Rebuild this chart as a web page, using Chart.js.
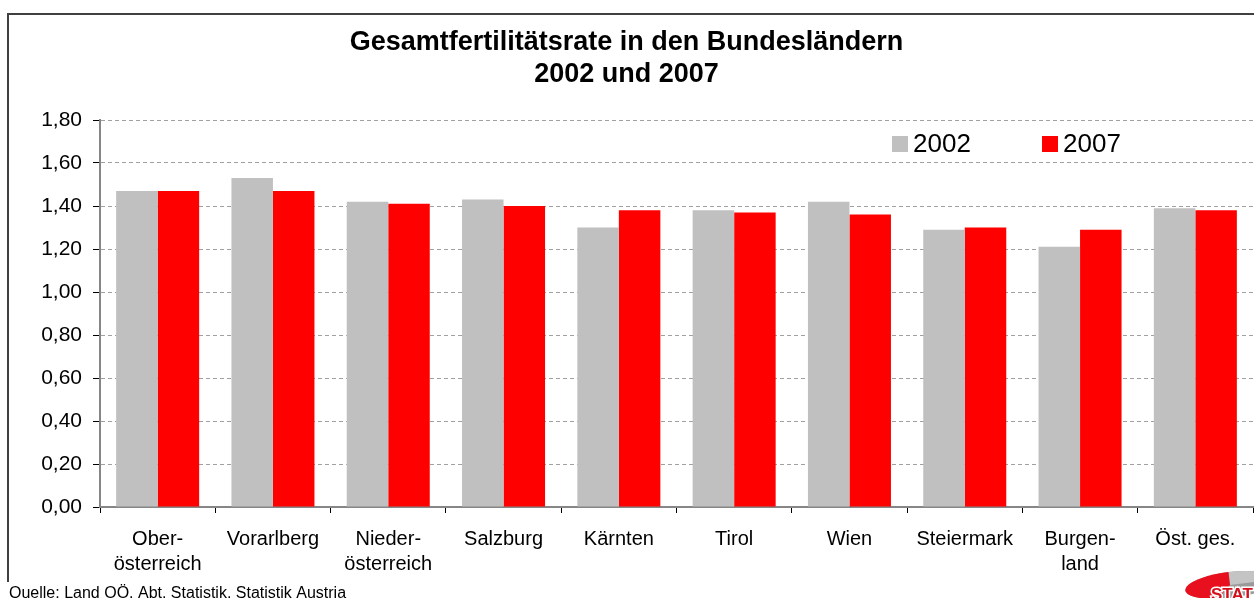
<!DOCTYPE html>
<html>
<head>
<meta charset="utf-8">
<script src="https://cdn.jsdelivr.net/npm/chart.js@4"></script>
<style>
html,body{margin:0;padding:0;background:#fff;}
#wrap{position:relative;width:1254px;height:598px;}
</style>
</head>
<body>
<div id="wrap"><canvas id="c" width="1254" height="598"></canvas></div>
<script>
const categories = [['Ober-','österreich'], 'Vorarlberg', ['Nieder-','österreich'], 'Salzburg', 'Kärnten', 'Tirol', 'Wien', 'Steiermark', ['Burgen-','land'], 'Öst. ges.'];
const values2002 = [1.47, 1.53, 1.42, 1.43, 1.30, 1.38, 1.42, 1.29, 1.21, 1.39];
const values2007 = [1.47, 1.47, 1.41, 1.40, 1.38, 1.37, 1.36, 1.30, 1.29, 1.38];
const seriesLabels = ['2002', '2007'];
const titleLines = ['Gesamtfertilitätsrate in den Bundesländern', '2002 und 2007'];
const sourceText = 'Quelle: Land OÖ, Abt. Statistik, Statistik Austria';

const FONT = '"Liberation Sans", Arial, sans-serif';

const framePlugin = {
  id: 'frame',
  beforeDraw(chart) {
    const ctx = chart.ctx;
    ctx.save();
    ctx.fillStyle = '#fff';
    ctx.fillRect(0, 0, chart.width, chart.height);
    ctx.strokeStyle = '#404040';
    ctx.lineWidth = 2;
    ctx.beginPath();
    ctx.moveTo(8, 586);
    ctx.lineTo(8, 14);
    ctx.lineTo(1260, 14);
    ctx.stroke();
    ctx.restore();
  },
  afterDraw(chart) {
    const ctx = chart.ctx;
    ctx.save();
    // custom legend inside plot
    const ds = chart.data.datasets;
    const pos = [892, 1042];
    ctx.font = '26px ' + FONT;
    ctx.textBaseline = 'middle';
    ctx.textAlign = 'left';
    ds.forEach((d, i) => {
      ctx.fillStyle = d.backgroundColor;
      ctx.fillRect(pos[i], 136, 16, 16);
      ctx.fillStyle = '#000';
      ctx.fillText(d.label, pos[i] + 21, 145);
    });
    // source
    ctx.fillStyle = '#fff';
    ctx.fillRect(0, 582, 400, 16);
    ctx.fillStyle = '#000';
    ctx.font = '16px ' + FONT;
    ctx.textBaseline = 'alphabetic';
    ctx.fillText(sourceText, 9, 598);
    // logo
    const cx = 1230, cy = 585, rx = 45, ry = 13, rot = -0.12;
    ctx.save();
    ctx.beginPath();
    ctx.ellipse(cx, cy, rx, ry, rot, 0, Math.PI * 2);
    ctx.fillStyle = '#9a9a9a';
    ctx.fill();
    ctx.beginPath();
    ctx.moveTo(cx, cy);
    ctx.ellipse(cx, cy, rx, ry, rot, Math.PI * 1.5, Math.PI * 2);
    ctx.closePath();
    ctx.fillStyle = '#c4c4c4';
    ctx.fill();
    ctx.beginPath();
    ctx.moveTo(cx, cy);
    ctx.ellipse(cx, cy, rx, ry, rot, Math.PI * 0.6, Math.PI * 1.5);
    ctx.closePath();
    ctx.fillStyle = '#e8101e';
    ctx.fill();
    ctx.restore();
    ctx.font = 'bold 17px ' + FONT;
    ctx.lineWidth = 3;
    ctx.strokeStyle = '#fff';
    ctx.strokeText('STAT', 1211, 600);
    ctx.fillStyle = '#d4101c';
    ctx.fillText('STAT', 1211, 600);
    ctx.restore();
  }
};

new Chart(document.getElementById('c'), {
  type: 'bar',
  data: {
    labels: categories,
    datasets: [
      { label: seriesLabels[0], data: values2002, backgroundColor: '#c0c0c0' },
      { label: seriesLabels[1], data: values2007, backgroundColor: '#ff0000' }
    ]
  },
  options: {
    responsive: false,
    animation: false,
    devicePixelRatio: 1,
    layout: { padding: { left: 0, right: 1, top: 0, bottom: 0 } },
    datasets: { bar: { categoryPercentage: 0.72, barPercentage: 1.0 } },
    plugins: {
      legend: { display: false },
      tooltip: { enabled: false },
      title: {
        display: true,
        text: titleLines,
        color: '#000',
        font: { family: FONT, size: 27, weight: 'bold', lineHeight: 1.2 },
        padding: { top: 26, bottom: 29.2 }
      }
    },
    scales: {
      x: {
        offset: true,
        afterFit(scale) { scale.height = 91; },
        grid: { drawOnChartArea: false, drawTicks: true, tickLength: 6, tickColor: '#000', offset: true },
        border: { color: '#868686', width: 2 },
        ticks: {
          color: '#000', autoSkip: false, maxRotation: 0, padding: 14,
          font: { family: FONT, size: 20, lineHeight: 1.25 }
        }
      },
      y: {
        min: 0, max: 1.8,
        afterFit(scale) { scale.width = 100; },
        grid: { color: '#a0a0a0', lineWidth: 1, tickLength: 7, tickColor: '#000', tickBorderDash: [], tickWidth: 1 },
        border: { color: '#868686', width: 2, dash: [4, 3] },
        ticks: {
          stepSize: 0.2, color: '#000', padding: 11,
          font: { family: FONT, size: 21 },
          callback: (v) => Number(v).toFixed(2).replace('.', ',')
        }
      }
    }
  },
  plugins: [framePlugin]
});
</script>
</body>
</html>
